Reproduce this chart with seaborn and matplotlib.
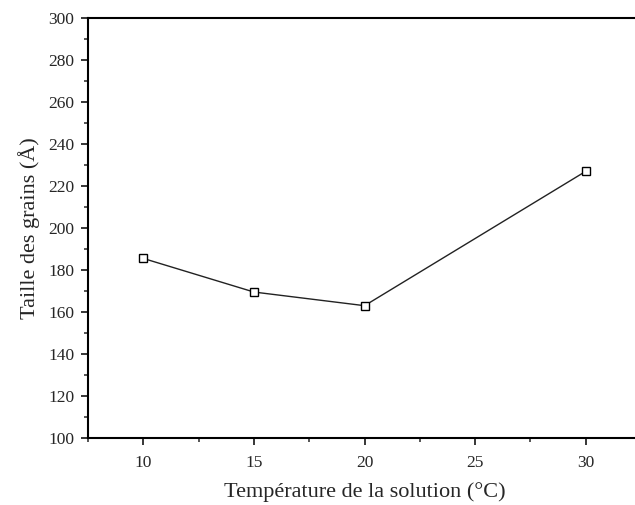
import pandas as pd
import seaborn as sns
import matplotlib.pyplot as plt
from matplotlib.ticker import MultipleLocator

# values
temperature = [10, 15, 20, 30]
taille = [185.5, 169.5, 163, 227]

data = pd.DataFrame({"T": temperature, "taille": taille})

sns.set_style("ticks")
plt.rcParams["font.family"] = ["Liberation Serif", "DejaVu Serif"]

fig = plt.figure(figsize=(6.35, 5.05), dpi=100)
ax = fig.add_axes([0.1386, 0.1327, 0.871, 0.8317])

sns.lineplot(data=data, x="T", y="taille", ax=ax, color="#222222", linewidth=1,
             marker="s", markersize=6, markerfacecolor="white",
             markeredgecolor="black", markeredgewidth=1)

ax.set_xlim(7.5, 32.5)
ax.set_ylim(100, 300)
ax.xaxis.set_major_locator(MultipleLocator(5))
ax.xaxis.set_minor_locator(MultipleLocator(2.5))
ax.yaxis.set_major_locator(MultipleLocator(20))
ax.yaxis.set_minor_locator(MultipleLocator(10))
ax.set_xticks([10, 15, 20, 25, 30])

for s in ax.spines.values():
    s.set_linewidth(1.5)
    s.set_color("black")
ax.tick_params(which="major", direction="out", length=5, width=1.3, labelsize=12.5)
ax.tick_params(axis="x", which="major", pad=7)
ax.tick_params(axis="y", which="major", pad=5)
ax.tick_params(which="minor", direction="out", length=3, width=1.1)

ax.set_xlabel("Température de la solution (°C)", fontsize=16, labelpad=8)
ax.set_ylabel("Taille des grains (Å)", fontsize=16, labelpad=6)

plt.savefig("out.png", dpi=100)
